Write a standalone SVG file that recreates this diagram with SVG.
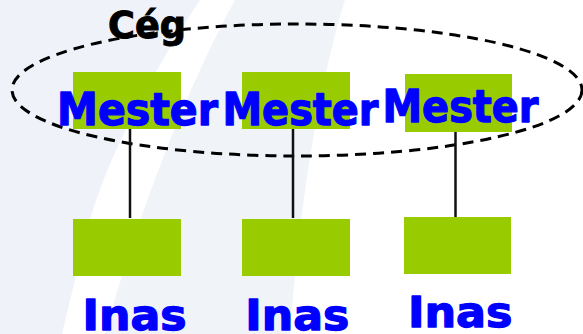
<svg xmlns="http://www.w3.org/2000/svg" width="583" height="334" viewBox="0 0 583 334">
<style>
.box{fill:#99CC00}
.lbl{font-family:"DejaVu Sans","Verdana",sans-serif;font-weight:bold;fill:#0000FF;stroke:#0000FF;stroke-width:1.3;stroke-linejoin:round}
.conn{stroke:#111;stroke-width:2.5;fill:none}
</style>
<rect width="583" height="334" fill="#FFFFFF"/>
<g id="background">
<path d="M0,0 L200,0 C160,60 110,150 90,220 C80,260 70,300 62,334 L0,334 Z" fill="#EFF3F9"/>
<path d="M235,0 L345,0 C320,80 300,200 290,334 L105,334 C130,240 180,100 235,0 Z" fill="#F0F4F9"/>
</g>
<g id="ceg">
<ellipse cx="297" cy="90" rx="285" ry="66" fill="none" stroke="#000" stroke-width="3" stroke-dasharray="11,7"/>
<text x="108" y="38" font-family="DejaVu Sans, sans-serif" font-weight="bold" font-size="37" fill="#000" stroke="#000" stroke-width="1" textLength="78" lengthAdjust="spacingAndGlyphs">Cég</text>
</g>
<g id="connectors">
<line class="conn" x1="130" y1="129" x2="130" y2="218"/>
<line class="conn" x1="293" y1="129" x2="293" y2="218"/>
<line class="conn" x1="455.5" y1="132" x2="455.5" y2="218"/>
</g>
<g id="mester1">
<rect class="box" x="73" y="72" width="108" height="57"/>
<text class="lbl" x="57" y="124.5" font-size="45" textLength="161" lengthAdjust="spacingAndGlyphs">Mester</text>
</g>
<g id="mester2">
<rect class="box" x="242" y="72" width="108" height="57"/>
<text class="lbl" x="222.5" y="124.5" font-size="45" textLength="156" lengthAdjust="spacingAndGlyphs">Mester</text>
</g>
<g id="mester3">
<rect class="box" x="405" y="74" width="107" height="58"/>
<text class="lbl" x="382.5" y="121.7" font-size="45" textLength="156" lengthAdjust="spacingAndGlyphs">Mester</text>
</g>
<g id="inas1">
<rect class="box" x="73" y="219" width="108" height="57"/>
<text class="lbl" x="82.5" y="329.5" font-size="42.5" textLength="104" lengthAdjust="spacingAndGlyphs">Inas</text>
</g>
<g id="inas2">
<rect class="box" x="242" y="219" width="108" height="57"/>
<text class="lbl" x="245.3" y="330" font-size="42.5" textLength="104" lengthAdjust="spacingAndGlyphs">Inas</text>
</g>
<g id="inas3">
<rect class="box" x="404" y="217" width="107" height="57"/>
<text class="lbl" x="408" y="327" font-size="42.5" textLength="104.5" lengthAdjust="spacingAndGlyphs">Inas</text>
</g>
</svg>
